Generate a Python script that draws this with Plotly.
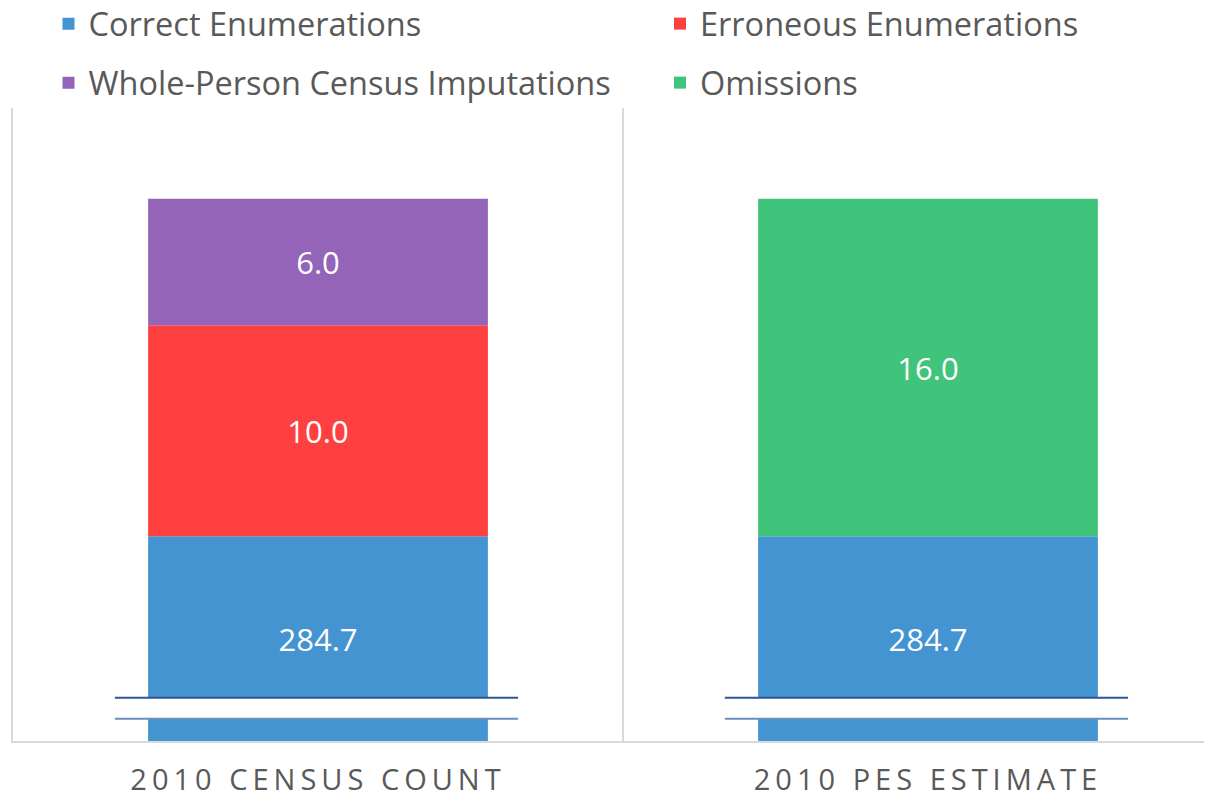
import plotly.graph_objects as go

# ---- data ----
categories = ["2010 CENSUS COUNT", "2010 PES ESTIMATE"]
series_names = ["Correct Enumerations", "Erroneous Enumerations",
                "Whole-Person Census Imputations", "Omissions"]
correct = [284.7, 284.7]
erroneous = [10.0, None]
imputations = [6.0, None]
omissions = [None, 16.0]

# ---- style / layout constants ----
AXIS_FLOOR = 275.0   # broken axis: visible range starts here
AXIS_TOP = 305.0
BREAK_LOW, BREAK_HIGH = 276.05, 277.05
COLORS = {"Correct Enumerations": "#4394D1",
          "Erroneous Enumerations": "#FF4040",
          "Whole-Person Census Imputations": "#9364B8",
          "Omissions": "#40C47C"}
FONT = "Open Sans"
GRID = "#D9D9D9"
TEXT = "#595959"
W, H = 1204, 798   # page body adds an 8px margin


def nz(v):
    return 0.0 if v is None else v


def fmt(vals):
    return ["" if v is None else f"{v:.1f}" for v in vals]


# bases / heights for explicit stacking on the broken axis
blue_base = [AXIS_FLOOR for _ in correct]
blue_len = [c - AXIS_FLOOR for c in correct]
red_base = list(correct)
purple_base = [c + nz(e) for c, e in zip(correct, erroneous)]
green_base = list(correct)

fig = go.Figure()


def add(name, y, base, text, legend):
    fig.add_trace(go.Bar(
        x=categories, y=y, base=base, name=name,
        marker=dict(color=COLORS[name], line=dict(width=0)),
        width=0.557,
        text=text, textposition="inside", insidetextanchor="middle",
        textangle=0, constraintext="none",
        textfont=dict(family=FONT, size=31, color="white"),
        legend=legend,
    ))


add("Correct Enumerations", blue_len, blue_base, fmt(correct), "legend")
add("Erroneous Enumerations", erroneous, red_base, fmt(erroneous), "legend2")
add("Whole-Person Census Imputations", imputations, purple_base, fmt(imputations), "legend3")
add("Omissions", omissions, green_base, fmt(omissions), "legend4")

# axis-break marks on each bar
for i in range(len(categories)):
    fig.add_shape(type="rect", xref="x", yref="y",
                  x0=i - 0.333, x1=i + 0.328, y0=BREAK_LOW, y1=BREAK_HIGH,
                  fillcolor="white", line=dict(width=0), layer="above")
    fig.add_shape(type="line", xref="x", yref="y",
                  x0=i - 0.333, x1=i + 0.328, y0=BREAK_HIGH, y1=BREAK_HIGH,
                  line=dict(color="#2F5597", width=2), layer="above")
    fig.add_shape(type="line", xref="x", yref="y",
                  x0=i - 0.333, x1=i + 0.328, y0=BREAK_LOW, y1=BREAK_LOW,
                  line=dict(color="#6A8EC0", width=2), layer="above")

# divider between categories
fig.add_shape(type="line", xref="x", yref="paper", x0=0.5, x1=0.5, y0=0, y1=1,
              line=dict(color=GRID, width=2), layer="below")


def legend_at(px, py):
    return dict(orientation="h", xref="container", yref="container",
                x=px / W, y=1 - py / H, xanchor="left", yanchor="middle",
                font=dict(family=FONT, size=32.5, color=TEXT),
                bgcolor="rgba(0,0,0,0)", borderwidth=0)


fig.update_layout(
    width=W, height=H,
    margin=dict(l=5, r=0, t=100, b=65, autoexpand=False),
    paper_bgcolor="white", plot_bgcolor="white",
    barmode="overlay",
    showlegend=True,
    legend=legend_at(40.5, 16),
    legend2=legend_at(652, 16),
    legend3=legend_at(40.5, 75),
    legend4=legend_at(652, 75),
    xaxis=dict(
        type="category", range=[-0.5, 1.4656],
        tickvals=categories,
        ticktext=[f'<span style="letter-spacing:5px">{c}</span>' for c in categories],
        tickfont=dict(family=FONT, size=29, color=TEXT),
        ticks="", ticklabelstandoff=12,
        showline=True, linecolor=GRID, linewidth=2,
        showgrid=False, zeroline=False, fixedrange=True, automargin=False,
    ),
    yaxis=dict(
        range=[AXIS_FLOOR, AXIS_TOP], showticklabels=False, ticks="",
        showline=True, linecolor=GRID, linewidth=2,
        showgrid=False, zeroline=False, fixedrange=True, automargin=False,
    ),
    font=dict(family=FONT, color=TEXT),
)

fig.write_html("out.html")
